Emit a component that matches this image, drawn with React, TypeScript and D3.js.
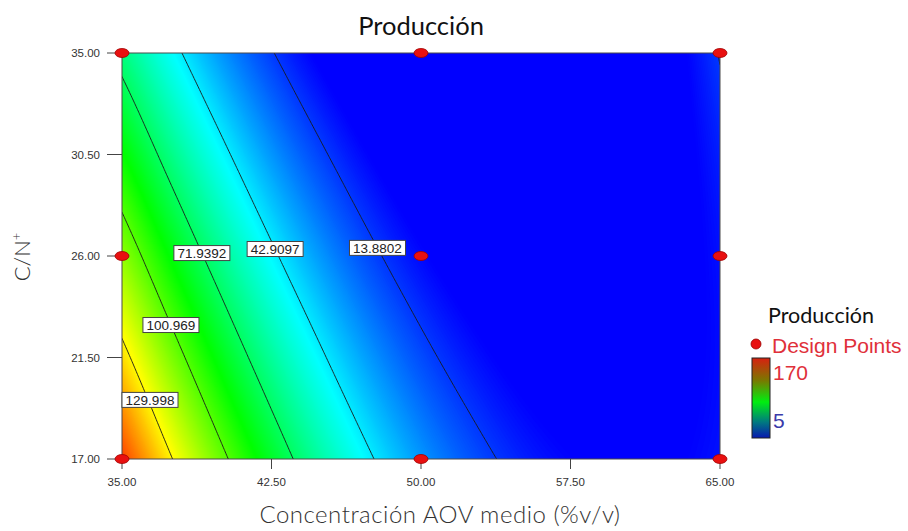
import React, { useEffect, useRef } from 'react';
import * as d3 from 'd3';

// response grid (Producción), x = AOV %, rows = C/N+
const aovGrid = [35, 37.5, 40, 42.5, 45, 47.5, 50, 52.5, 55, 57.5, 60, 62.5, 65];
const cnRows = [17, 26, 35];
const prodAtCn17 = [159.5, 130.4, 104.2, 81.1, 60.9, 43.8, 29.6, 18.5, 10.3, 5.2, 3.0, 3.9, 7.7];
const prodAtCn26 = [110.8, 86.0, 64.2, 45.3, 29.4, 16.3, 6.2, -0.9, -5.1, -6.3, -4.7, -0.1, 7.4];
const prodAtCn35 = [67.1, 46.7, 29.2, 14.6, 2.8, -6.1, -12.1, -15.2, -15.5, -12.9, -7.4, 0.9, 14.5];

const contourLevels = [129.998, 100.969, 71.9392, 42.9097, 13.8802];
const contourLabels = ['129.998', '100.969', '71.9392', '42.9097', '13.8802'];
const labelCn = [19.62, 22.94, 26.13, 26.31, 26.36]; // C/N+ where each label sits

const xTicks = [35, 42.5, 50, 57.5, 65];
const yTicks = [17, 21.5, 26, 30.5, 35];

const designAov = [35, 35, 35, 50, 50, 50, 65, 65, 65];
const designCn = [17, 26, 35, 17, 26, 35, 17, 26, 35];

const legendMin = 5;
const legendMax = 170;

const rows = [prodAtCn17, prodAtCn26, prodAtCn35];

// cubic (catmull-rom) along x inside a row, quadratic through the three rows
const rowAt = (row: number[], i: number, t: number) => {
  const n = row.length;
  const p1 = row[i];
  const p2 = row[i + 1];
  const p0 = i > 0 ? row[i - 1] : 2 * p1 - p2;
  const p3 = i + 2 < n ? row[i + 2] : 2 * p2 - p1;
  return (
    0.5 *
    (2 * p1 +
      (-p0 + p2) * t +
      (2 * p0 - 5 * p1 + 4 * p2 - p3) * t * t +
      (-p0 + 3 * p1 - 3 * p2 + p3) * t * t * t)
  );
};

const field = (x: number, y: number) => {
  const step = aovGrid[1] - aovGrid[0];
  let i = Math.floor((x - aovGrid[0]) / step);
  i = Math.max(0, Math.min(aovGrid.length - 2, i));
  const t = (x - aovGrid[i]) / step;
  const r = rows.map((row) => rowAt(row, i, t));
  const u = (y - cnRows[1]) / (cnRows[1] - cnRows[0]);
  return r[1] + (u * (r[2] - r[0])) / 2 + (u * u * (r[2] - 2 * r[1] + r[0])) / 2;
};

const App = () => {
  const svgRef = useRef<SVGSVGElement>(null);

  useEffect(() => {
    const svg = d3.select(svgRef.current);
    svg.selectAll('*').remove();

    const left = 122, right = 720, top = 53, bottom = 459;
    const x = d3.scaleLinear().domain([35, 65]).range([left, right]);
    const y = d3.scaleLinear().domain([17, 35]).range([bottom, top]);

    const color = d3
      .scaleLinear<string>()
      .domain([5, 46.25, 87.5, 128.75, 170])
      .range(['#0000ff', '#00ffff', '#00ff00', '#ffff00', '#ff0000'])
      .clamp(true);

    // sample the surface
    const sx = 0.125, sy = 0.125;
    const nx = Math.round(30 / sx) + 1;
    const ny = Math.round(18 / sy) + 1;
    const values: number[] = new Array(nx * ny);
    for (let j = 0; j < ny; j++) {
      for (let i = 0; i < nx; i++) {
        values[j * nx + i] = field(35 + i * sx, 17 + j * sy);
      }
    }

    const proj = d3.geoTransform({
      point: function (px: number, py: number) {
        this.stream.point(x(35 + (px - 0.5) * sx), y(17 + (py - 0.5) * sy));
      },
    });
    const path = d3.geoPath(proj);

    const defs = svg.append('defs');
    defs
      .append('clipPath')
      .attr('id', 'plot-clip')
      .append('rect')
      .attr('x', left)
      .attr('y', top)
      .attr('width', right - left)
      .attr('height', bottom - top);

    const grad = defs
      .append('linearGradient')
      .attr('id', 'legend-grad')
      .attr('x1', 0).attr('y1', 0).attr('x2', 0).attr('y2', 1);
    [
      [0, '#d82010'],
      [0.28, '#7a7800'],
      [0.55, '#00ee10'],
      [0.8, '#007a80'],
      [1, '#0818b0'],
    ].forEach(([o, c]) => grad.append('stop').attr('offset', o as number).attr('stop-color', c as string));

    const plot = svg.append('g').attr('clip-path', 'url(#plot-clip)');
    plot
      .append('rect')
      .attr('x', left)
      .attr('y', top)
      .attr('width', right - left)
      .attr('height', bottom - top)
      .attr('fill', color(legendMin));

    const bands = d3.contours().size([nx, ny]).thresholds(d3.range(5, 170, 0.5))(values);
    plot
      .selectAll('path.band')
      .data(bands)
      .join('path')
      .attr('class', 'band')
      .attr('d', (d) => path(d as any))
      .attr('fill', (d) => color(d.value + 0.25));

    const lines = d3.contours().size([nx, ny]).thresholds(contourLevels)(values);
    plot
      .selectAll('path.iso')
      .data(lines)
      .join('path')
      .attr('class', 'iso')
      .attr('d', (d) => path(d as any))
      .attr('fill', 'none')
      .attr('stroke', '#1a1a1a')
      .attr('stroke-width', 0.9);

    // frame
    svg
      .append('rect')
      .attr('x', left)
      .attr('y', top)
      .attr('width', right - left)
      .attr('height', bottom - top)
      .attr('fill', 'none')
      .attr('stroke', '#4a4a4a')
      .attr('stroke-width', 1);

    // contour labels, placed where the line crosses the label's C/N+
    contourLevels.forEach((lv, k) => {
      const yy = labelCn[k];
      let lo = 35, hi = 65;
      for (let n = 0; n < 60; n++) {
        const mid = (lo + hi) / 2;
        if (field(mid, yy) > lv) lo = mid;
        else hi = mid;
      }
      const cx = Math.max(x(lo), left + 28);
      const cy = y(yy);
      const g = svg.append('g');
      g.append('rect')
        .attr('x', cx - 28)
        .attr('y', cy - 7.5)
        .attr('width', 56)
        .attr('height', 15)
        .attr('fill', '#fff')
        .attr('stroke', '#444')
        .attr('stroke-width', 1);
      g.append('text')
        .attr('x', cx)
        .attr('y', cy + 5)
        .attr('text-anchor', 'middle')
        .attr('font-family', 'Liberation Sans, Arial, sans-serif')
        .attr('font-size', 13.5)
        .attr('fill', '#222')
        .text(contourLabels[k]);
    });

    // axes
    const xAxis = svg.append('g');
    xTicks.forEach((t) => {
      xAxis.append('line')
        .attr('x1', x(t)).attr('x2', x(t))
        .attr('y1', bottom).attr('y2', bottom + 10)
        .attr('stroke', '#444');
      xAxis.append('text')
        .attr('x', x(t))
        .attr('y', bottom + 27)
        .attr('text-anchor', 'middle')
        .attr('font-family', 'Liberation Sans, Arial, sans-serif')
        .attr('font-size', 11.5)
        .attr('fill', '#333')
        .text(t.toFixed(2));
    });
    const yAxis = svg.append('g');
    yTicks.forEach((t) => {
      yAxis.append('line')
        .attr('x1', left - 15).attr('x2', left)
        .attr('y1', y(t)).attr('y2', y(t))
        .attr('stroke', '#444');
      yAxis.append('text')
        .attr('x', left - 22)
        .attr('y', y(t) + 4)
        .attr('text-anchor', 'end')
        .attr('font-family', 'Liberation Sans, Arial, sans-serif')
        .attr('font-size', 11.5)
        .attr('fill', '#333')
        .text(t.toFixed(2));
    });

    // design points
    svg
      .selectAll('ellipse.dp')
      .data(designAov.map((a, i) => [a, designCn[i]]))
      .join('ellipse')
      .attr('class', 'dp')
      .attr('cx', (d) => x(d[0]))
      .attr('cy', (d) => y(d[1]))
      .attr('rx', 7)
      .attr('ry', 4.5)
      .attr('fill', '#e81010')
      .attr('stroke', '#a00000')
      .attr('stroke-width', 0.8);

    // titles
    svg.append('text')
      .attr('x', 421).attr('y', 35)
      .attr('text-anchor', 'middle')
      .attr('font-family', 'Lato, sans-serif')
      .attr('font-size', 25.5)
      .attr('fill', '#111')
      .text('Producción');
    svg.append('text')
      .attr('x', 440).attr('y', 523)
      .attr('text-anchor', 'middle')
      .attr('font-family', 'Lato, sans-serif')
      .attr('font-weight', 300)
      .attr('font-size', 24)
      .attr('letter-spacing', 0.5)
      .attr('fill', '#333')
      .text('Concentración AOV medio (%v/v)');
    const yt = svg.append('text')
      .attr('transform', 'translate(30,257) rotate(-90)')
      .attr('text-anchor', 'middle')
      .attr('font-family', 'Lato, sans-serif')
      .attr('font-weight', 300)
      .attr('font-size', 22)
      .attr('fill', '#333');
    yt.append('tspan').text('C/N');
    yt.append('tspan').attr('dy', -9).attr('font-size', 13).text('+');

    // legend
    const lg = svg.append('g');
    lg.append('text')
      .attr('x', 768).attr('y', 323)
      .attr('font-family', 'Lato, sans-serif')
      .attr('font-size', 21.5)
      .attr('fill', '#111')
      .text('Producción');
    lg.append('circle')
      .attr('cx', 756).attr('cy', 344).attr('r', 5)
      .attr('fill', '#e81010').attr('stroke', '#900').attr('stroke-width', 0.8);
    lg.append('text')
      .attr('x', 772).attr('y', 353)
      .attr('font-family', 'Liberation Sans, Arial, sans-serif')
      .attr('font-size', 21)
      .attr('fill', '#e0303a')
      .text('Design Points');
    lg.append('rect')
      .attr('x', 752).attr('y', 358).attr('width', 18).attr('height', 80)
      .attr('fill', 'url(#legend-grad)')
      .attr('stroke', '#222').attr('stroke-width', 1);
    lg.append('text')
      .attr('x', 773).attr('y', 380)
      .attr('font-family', 'Liberation Sans, Arial, sans-serif')
      .attr('font-size', 21)
      .attr('fill', '#e0303a')
      .text(String(legendMax));
    lg.append('text')
      .attr('x', 773).attr('y', 428)
      .attr('font-family', 'Liberation Sans, Arial, sans-serif')
      .attr('font-size', 21)
      .attr('fill', '#3a3aaa')
      .text(String(legendMin));
  }, []);

  return (
    <svg
      ref={svgRef}
      width={908}
      height={531}
      style={{ position: 'absolute', left: 0, top: 0, background: '#fff' }}
    />
  );
};

export default App;
